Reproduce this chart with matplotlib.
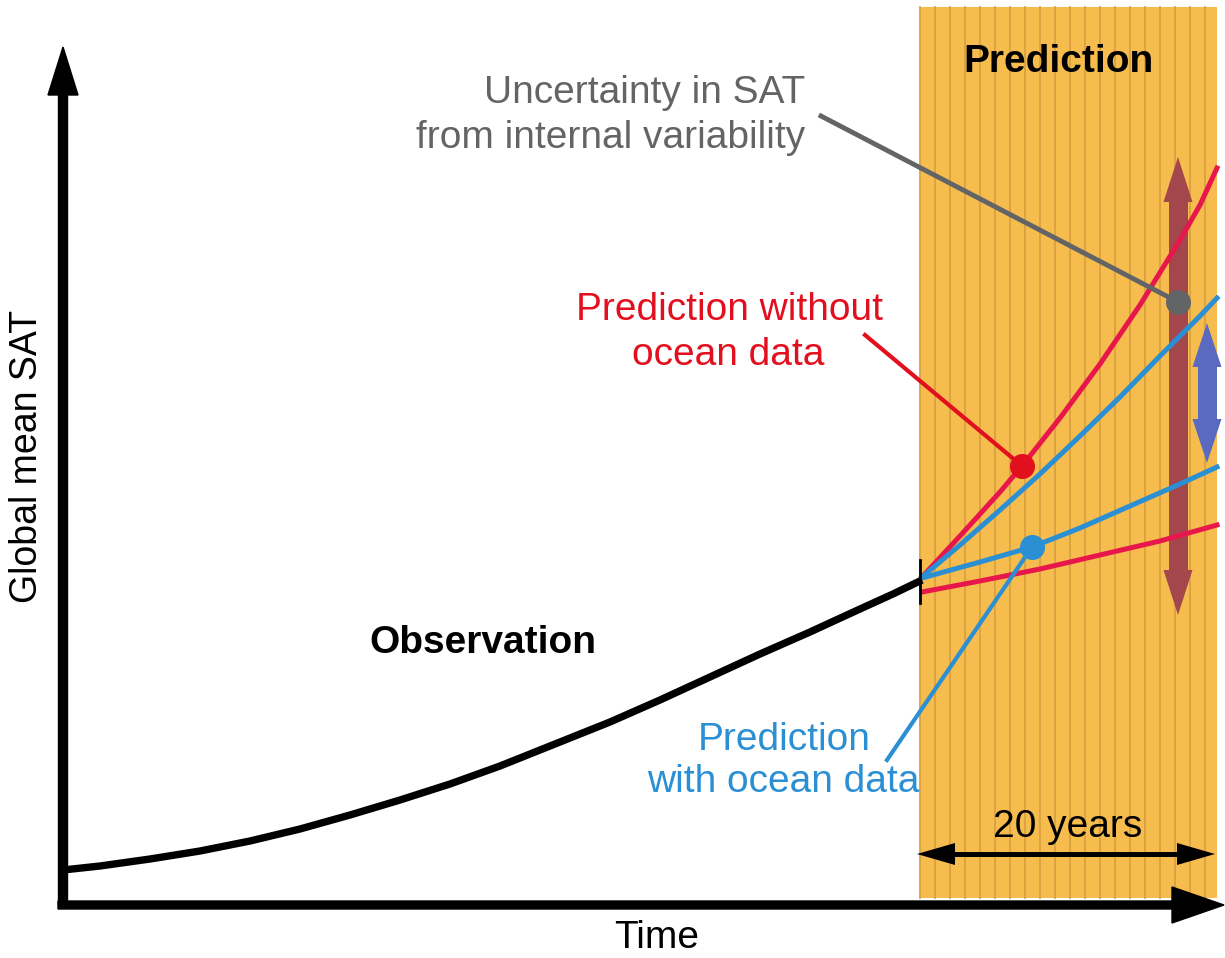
import numpy as np
import matplotlib
matplotlib.use('Agg')
import matplotlib.pyplot as plt
from matplotlib.patches import Rectangle, FancyArrow

plt.rcParams['font.family'] = ['Liberation Sans', 'DejaVu Sans']

# Curves (pixel space, y grows downwards)
obs_x = [63, 100, 150, 200, 250, 300, 350, 400, 450, 500, 550, 610, 660, 710,
         760, 810, 860, 893, 922]
obs_y = [870, 866, 859, 851, 841, 829, 815, 800, 784, 766, 746, 722, 700, 677,
         654, 632, 609, 594, 580]

red_hi_x = [922, 960, 1000, 1022, 1060, 1100, 1140, 1180, 1200, 1217]
red_hi_y = [577, 536, 492, 466, 418, 364, 305, 240, 205, 168]
red_lo_x = [922, 980, 1040, 1100, 1160, 1217]
red_lo_y = [592, 581, 569, 555, 541, 525]

blue_hi_x = [922, 960, 1000, 1040, 1080, 1120, 1160, 1200, 1217]
blue_hi_y = [577, 545, 510, 474, 436, 397, 356, 316, 298]
blue_mid_x = [922, 980, 1032, 1080, 1130, 1180, 1217]
blue_mid_y = [578, 562, 547, 528, 506, 484, 467]

red_dot = (1022, 466)
blue_dot = (1032, 547)
gray_dot = (1178, 302)

red_text = '#E2101F'
red_line = '#E8174B'
blue = '#2A8FD3'
gray = '#626466'
orange = '#F7BC4E'
stripe = '#D9A23F'

fig = plt.figure(figsize=(12.25, 9.58), dpi=100)
ax = fig.add_axes([0, 0, 1, 1])
ax.set_xlim(0, 1225)
ax.set_ylim(958, 0)
ax.axis('off')

# prediction window
ax.add_patch(Rectangle((920, 7), 297, 891, facecolor=orange, edgecolor='none', zorder=1))
for sx in np.arange(920, 1217, 15):
    ax.plot([sx, sx], [7, 898], color=stripe, lw=1.3, zorder=1.5)

# axes arrows
ax.add_patch(FancyArrow(63, 905, 0, -858, width=9, head_width=30, head_length=48,
                        length_includes_head=True, color='black', zorder=5))
ax.add_patch(FancyArrow(58, 905, 1166, 0, width=8, head_width=36, head_length=52,
                        length_includes_head=True, color='black', zorder=5))

# observation
ax.plot(obs_x, obs_y, color='black', lw=5.3, solid_capstyle='butt',
        solid_joinstyle='round', zorder=4)
ax.plot([920, 920], [560, 603], color='black', lw=2, zorder=4)


def double_arrow(p0, p1, w, hw, hl, c, z=3):
    # shaft as a line, heads as bare triangles
    (x0, y0), (x1, y1) = p0, p1
    L = np.hypot(x1 - x0, y1 - y0)
    ux, uy = (x1 - x0) / L, (y1 - y0) / L
    ax.plot([x0 + ux * (hl - 2), x1 - ux * (hl - 2)], [y0 + uy * (hl - 2), y1 - uy * (hl - 2)],
            color=c, lw=w * 0.72, solid_capstyle='butt', zorder=z)
    for (tx, ty), s in [((x0, y0), 1), ((x1, y1), -1)]:
        bx, by = tx + s * ux * hl, ty + s * uy * hl
        ax.add_patch(FancyArrow(bx, by, tx - bx, ty - by, width=0.01, head_width=hw,
                                head_length=hl, length_includes_head=True,
                                color=c, lw=0, zorder=z))


double_arrow((1178, 157), (1178, 615), 19, 29, 45, '#A3474D')
double_arrow((1207, 323), (1207, 463), 19, 29, 44, '#5A6AC0')

# prediction curves
kw = dict(lw=3.6, solid_joinstyle='round', zorder=3.5)
ax.plot(red_hi_x, red_hi_y, color=red_line, **kw)
ax.plot(red_lo_x, red_lo_y, color=red_line, **kw)
ax.plot(blue_hi_x, blue_hi_y, color=blue, **kw)
ax.plot(blue_mid_x, blue_mid_y, color=blue, **kw)

# pointers
ax.plot([865, red_dot[0]], [335, red_dot[1]], color=red_text, lw=3, zorder=3.6)
ax.plot([887, blue_dot[0]], [760, blue_dot[1]], color=blue, lw=3, zorder=3.6)
ax.plot([821, gray_dot[0]], [116, gray_dot[1]], color=gray, lw=3.5, zorder=3.6)
ax.plot(*red_dot, 'o', ms=17, color=red_text, zorder=6)
ax.plot(*blue_dot, 'o', ms=17, color=blue, zorder=6)
ax.plot(*gray_dot, 'o', ms=17, color=gray, zorder=6)

# 20 years
double_arrow((917, 854), (1215, 854), 5, 22, 38, 'black', z=5)
ax.text(1068, 837, '20 years', fontsize=28, ha='center', va='baseline', zorder=6)

# labels
ax.text(1058, 72, 'Prediction', fontsize=28, fontweight='bold', ha='center', va='baseline')
ax.text(805, 103, 'Uncertainty in SAT', fontsize=28, color=gray, ha='right', va='baseline')
ax.text(805, 148, 'from internal variability', fontsize=28, color=gray, ha='right', va='baseline')
ax.text(730, 320, 'Prediction without', fontsize=28, color=red_text, ha='center', va='baseline')
ax.text(728, 365, 'ocean data', fontsize=28, color=red_text, ha='center', va='baseline')
ax.text(784, 750, 'Prediction', fontsize=28, color=blue, ha='center', va='baseline')
ax.text(783, 792, 'with ocean data', fontsize=28, color=blue, ha='center', va='baseline')
ax.text(483, 653, 'Observation', fontsize=28, fontweight='bold', ha='center', va='baseline')
ax.text(657, 948, 'Time', fontsize=28, ha='center', va='baseline')
ax.text(27, 456, 'Global mean SAT', fontsize=27, rotation=90, ha='center', va='center')

fig.savefig('out.png', dpi=100)
